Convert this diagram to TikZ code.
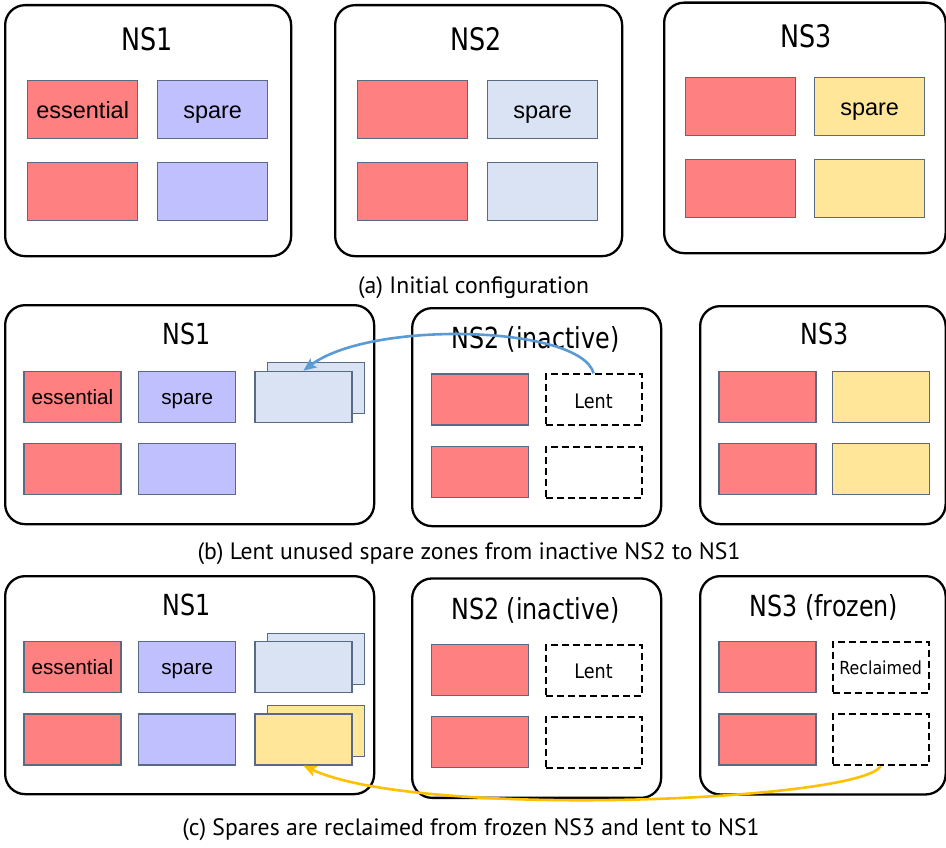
\documentclass[tikz,border=0pt]{standalone}
\usepackage{fontspec}
\usetikzlibrary{arrows.meta}
\newfontfamily\ttlfont[FakeStretch=0.82]{DejaVu Sans}
\newfontfamily\lblfont[FakeStretch=0.88]{DejaVu Sans}
\newfontfamily\arlfont{Liberation Sans}
\newfontfamily\capfont{PT Sans}
\definecolor{cred}{HTML}{FF8080}
\definecolor{cpur}{HTML}{C0C0FF}
\definecolor{cblu}{HTML}{DAE3F3}
\definecolor{cyel}{HTML}{FFE699}
\definecolor{cbrd}{HTML}{586A85}
\definecolor{arblue}{HTML}{5B9BD5}
\definecolor{aryel}{HTML}{FFC000}
\tikzset{
  nsbox/.style={draw=black, line width=2.3pt, rounded corners=20pt, anchor=north west, inner sep=0pt},
  cellA/.style={draw=cbrd, line width=1.3pt, anchor=north west, inner sep=0pt,
    minimum width=110pt, minimum height=58pt, font=\arlfont\fontsize{23.5}{28}\selectfont,
    text height=17pt, text depth=0pt},
  cellB/.style={draw=cbrd, line width=1.3pt, anchor=north west, inner sep=0pt,
    minimum width=97pt, minimum height=51pt, font=\arlfont\fontsize{20.7}{25}\selectfont,
    text height=15pt, text depth=0pt},
  dashcell/.style={draw=black, line width=1.8pt, dash pattern=on 7pt off 4pt, fill=white,
    anchor=north west, inner sep=0pt, minimum width=96pt, minimum height=51pt,
    font=\lblfont\fontsize{20}{24}\selectfont, text height=17pt, text depth=0pt},
  ttlA/.style={font=\ttlfont\fontsize{31}{36}\selectfont, inner sep=0pt, text height=22.6pt, text depth=0pt},
  ttlB/.style={font=\ttlfont\fontsize{29}{34}\selectfont, inner sep=0pt, text height=21.1pt, text depth=0pt},
  capt/.style={font=\capfont\fontsize{23.7}{28}\selectfont, inner sep=0pt, text height=16.6pt, text depth=0pt},
  fr/.style={fill=cred}, fp/.style={fill=cpur}, fb/.style={fill=cblu}, fy/.style={fill=cyel},
  blarrow/.style={draw=arblue, line width=2.6pt, -{Stealth[length=13pt,width=11pt,inset=3pt]}},
  ylarrow/.style={draw=aryel, line width=2.6pt, -{Stealth[length=13pt,width=11pt,inset=3pt]}},
}
\begin{document}
\begin{tikzpicture}[x=1pt,y=-1pt]
\useasboundingbox (0,0) rectangle (946,848);
% ---------- panel (a) ----------
\node[nsbox, minimum width=286pt, minimum height=251pt] (a1) at (4,4) {};
\node[nsbox, minimum width=287pt, minimum height=251pt] (a2) at (334,4) {};
\node[nsbox, minimum width=281.5pt, minimum height=250.5pt] (a3) at (663,1.5) {};
\node[ttlA] (a1t) at (147,39) {NS1};
\node[ttlA] (a2t) at (476,39.5) {NS2};
\node[ttlA] (a3t) at (806,36.7) {NS3};
\node[cellA, fr] (a1e1) at (27,80) {essential};
\node[cellA, fp] (a1s1) at (157,80) {spare};
\node[cellA, fr] (a1e2) at (27,162) {};
\node[cellA, fp] (a1s2) at (157,162) {};
\node[cellA, fr] (a2e1) at (357,80) {};
\node[cellA, fb] (a2s1) at (487,80) {spare};
\node[cellA, fr] (a2e2) at (357,162) {};
\node[cellA, fb] (a2s2) at (487,162) {};
\node[cellA, fr] (a3e1) at (685,77) {};
\node[cellA, fy] (a3s1) at (814,77) {spare};
\node[cellA, fr] (a3e2) at (685,159) {};
\node[cellA, fy] (a3s2) at (814,159) {};
\node[capt] (capa) at (473.5,285) {(a) Initial configuration};
% ---------- panel (b) ----------
\node[nsbox, minimum width=369pt, minimum height=219pt] (b1) at (4,304) {};
\node[nsbox, minimum width=249pt, minimum height=218pt] (b2) at (411,307) {};
\node[nsbox, minimum width=245.5pt, minimum height=218pt] (b3) at (699,305) {};
\node[ttlB] (b1t) at (187,334.2) {NS1};
\node[ttlB] (b3t) at (824.5,334) {NS3};
\node[cellB, fr] (b1e1) at (23.3,370.7) {essential};
\node[cellB, fp] (b1s1) at (138,370.7) {spare};
\node[cellB, fr] (b1e2) at (23.3,442.7) {};
\node[cellB, fp] (b1s2) at (138,442.7) {};
\node[cellB, fb] (b1bk) at (266.7,361.7) {};
\node[cellB, fb] (b1fr) at (254.3,370.7) {};
\node[cellB, fr] (b2e1) at (431,373.3) {};
\node[dashcell] (b2l1) at (544.7,373.3) {Lent};
\node[cellB, fr] (b2e2) at (431,446) {};
\node[dashcell] (b2l2) at (544.7,446) {};
\node[cellB, fr] (b3e1) at (718.3,370.7) {};
\node[cellB, fy] (b3s1) at (831.7,370.7) {};
\node[cellB, fr] (b3e2) at (718.3,442.7) {};
\node[cellB, fy] (b3s2) at (831.7,442.7) {};
\node[ttlB] (b2t) at (535.3,337.7) {NS2 (inactive)};
\draw[blarrow] (b2l1.north) .. controls +(-13,-48) and +(67,-51) .. (b1fr.north);
\node[capt] (capb) at (469,551) {(b) Lent unused spare zones from inactive NS2 to NS1};
% ---------- panel (c) ----------
\node[nsbox, minimum width=369pt, minimum height=218pt] (c1) at (4,575) {};
\node[nsbox, minimum width=249pt, minimum height=219.4pt] (c2) at (411,577.3) {};
\node[nsbox, minimum width=245.5pt, minimum height=218.3pt] (c3) at (699,575) {};
\node[ttlB] (c1t) at (187,605) {NS1};
\node[ttlB] (c2t) at (535.3,608.5) {NS2 (inactive)};
\node[ttlB] (c3t) at (824,605.8) {NS3 (frozen)};
\node[cellB, fr] (c1e1) at (23.3,641) {essential};
\node[cellB, fp] (c1s1) at (138,641) {spare};
\node[cellB, fr] (c1e2) at (23.3,713.3) {};
\node[cellB, fp] (c1s2) at (138,713.3) {};
\node[cellB, fb] (c1bk) at (266.7,632.7) {};
\node[cellB, fb] (c1fr) at (254.3,641) {};
\node[cellB, fy] (c1yk) at (266.7,705) {};
\node[cellB, fy] (c1yf) at (254.3,713.3) {};
\node[cellB, fr] (c2e1) at (431,644) {};
\node[dashcell] (c2l1) at (544.7,644) {Lent};
\node[cellB, fr] (c2e2) at (431,716) {};
\node[dashcell] (c2l2) at (544.7,716) {};
\node[cellB, fr] (c3e1) at (718.3,641) {};
\node[dashcell, font=\lblfont\fontsize{18}{22}\selectfont, text height=15pt] (c3r1) at (831.7,641) {Reclaimed};
\node[cellB, fr] (c3e2) at (718.3,713.3) {};
\node[dashcell] (c3r2) at (831.7,713.3) {};
\draw[ylarrow] (c3r2.south) .. controls +(-20,35) and +(115,54) .. (c1yf.south);
\node[capt] (capc) at (471,827) {(c) Spares are reclaimed from frozen NS3 and lent to NS1};
\end{tikzpicture}
\end{document}
